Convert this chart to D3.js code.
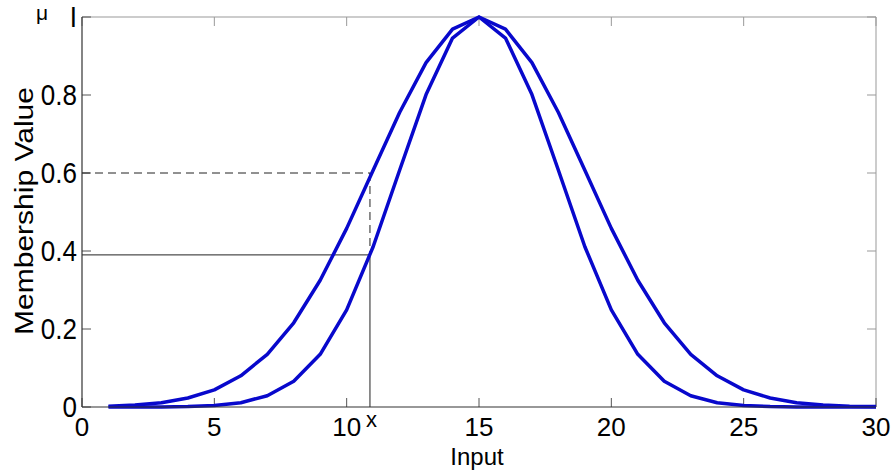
<!DOCTYPE html>
<html>
<head>
<meta charset="utf-8">
<script src="https://cdn.jsdelivr.net/npm/d3@7"></script>
<style>
  html, body { margin: 0; padding: 0; background: #fff; }
  svg { display: block; }
  text { font-family: "Liberation Sans", Arial, sans-serif; fill: #000; }
</style>
</head>
<body>
<svg id="chart" width="893" height="475"></svg>
<script>
// input points
const inputs = [1, 2, 3, 4, 5, 6, 7, 8, 9, 10, 11, 12, 13, 14, 15,
                16, 17, 18, 19, 20, 21, 22, 23, 24, 25, 26, 27, 28, 29, 30];
// upper (wide) membership curve
const upperMF = [0.002, 0.005, 0.011, 0.023, 0.044, 0.080, 0.135, 0.216, 0.325, 0.458,
                 0.607, 0.755, 0.883, 0.969, 1.000, 0.969, 0.883, 0.755, 0.607, 0.458,
                 0.325, 0.216, 0.135, 0.080, 0.044, 0.023, 0.011, 0.005, 0.002, 0.001];
// lower (narrow) membership curve
const lowerMF = [0.000, 0.000, 0.000, 0.001, 0.004, 0.011, 0.029, 0.066, 0.135, 0.249,
                 0.411, 0.607, 0.801, 0.946, 1.000, 0.946, 0.801, 0.607, 0.411, 0.249,
                 0.135, 0.066, 0.029, 0.011, 0.004, 0.001, 0.000, 0.000, 0.000, 0.000];

const xTicks = [0, 5, 10, 15, 20, 25, 30];
const yTicks = [0, 0.2, 0.4, 0.6, 0.8, 1];
const yTickLabels = ["0", "0.2", "0.4", "0.6", "0.8", "I"];

// marked input and its two membership grades
const markX = 10.88;
const markUpper = 0.6;
const markLower = 0.39;

const svg = d3.select("#chart");
const pl = 82, pr = 876, pt = 17, pb = 407;

const x = d3.scaleLinear().domain([0, 30]).range([pl, pr]);
const y = d3.scaleLinear().domain([0, 1]).range([pb, pt]);

// frame
svg.append("line").attr("x1", pl).attr("x2", pr).attr("y1", pt).attr("y2", pt)
    .attr("stroke", "#999").attr("stroke-width", 1);
svg.append("line").attr("x1", pr).attr("x2", pr).attr("y1", pt).attr("y2", pb)
    .attr("stroke", "#999").attr("stroke-width", 1);

// ticks (inside, like matlab)
const tk = 9;
svg.selectAll(".xt").data(xTicks).enter().append("line")
    .attr("x1", d => x(d)).attr("x2", d => x(d))
    .attr("y1", pb).attr("y2", pb - tk)
    .attr("stroke", "#555").attr("stroke-width", 1);
svg.selectAll(".xtt").data(xTicks).enter().append("line")
    .attr("x1", d => x(d)).attr("x2", d => x(d))
    .attr("y1", pt).attr("y2", pt + tk)
    .attr("stroke", "#999").attr("stroke-width", 1);
svg.selectAll(".yt").data(yTicks).enter().append("line")
    .attr("x1", pl).attr("x2", pl + tk)
    .attr("y1", d => y(d)).attr("y2", d => y(d))
    .attr("stroke", "#555").attr("stroke-width", 1);
svg.selectAll(".ytr").data(yTicks).enter().append("line")
    .attr("x1", pr).attr("x2", pr - tk)
    .attr("y1", d => y(d)).attr("y2", d => y(d))
    .attr("stroke", "#999").attr("stroke-width", 1);

// guide lines for the marked input
const guide = svg.append("g").attr("stroke", "#222").attr("stroke-width", 1).attr("fill", "none");
guide.append("line").attr("x1", x(0)).attr("x2", x(markX))
    .attr("y1", y(markUpper)).attr("y2", y(markUpper)).attr("stroke-dasharray", "8,5");
guide.append("line").attr("x1", x(markX)).attr("x2", x(markX))
    .attr("y1", y(markUpper)).attr("y2", y(markLower)).attr("stroke-dasharray", "8,5");
guide.append("line").attr("x1", x(0)).attr("x2", x(markX))
    .attr("y1", y(markLower)).attr("y2", y(markLower));
guide.append("line").attr("x1", x(markX)).attr("x2", x(markX))
    .attr("y1", y(0)).attr("y2", y(markLower));

// curves
const line = d3.line().x((d, i) => x(inputs[i])).y(d => y(d));
[upperMF, lowerMF].forEach(s => {
  svg.append("path").datum(s)
      .attr("d", line)
      .attr("fill", "none")
      .attr("stroke", "#0808cc")
      .attr("stroke-width", 3.5)
      .attr("stroke-linejoin", "round");
});

// axis lines on top
svg.append("line").attr("x1", pl).attr("x2", pr).attr("y1", pb).attr("y2", pb)
    .attr("stroke", "#333").attr("stroke-width", 1.2);
svg.append("line").attr("x1", pl).attr("x2", pl).attr("y1", pt).attr("y2", pb)
    .attr("stroke", "#333").attr("stroke-width", 1.2);

// tick labels
svg.selectAll(".xl").data(xTicks).enter().append("text")
    .attr("x", d => x(d)).attr("y", 436)
    .attr("text-anchor", "middle")
    .attr("font-size", 26)
    .text(d => d);
svg.selectAll(".yl").data(yTicks).enter().append("text")
    .attr("transform", d => `translate(77,${y(d) + 10}) scale(1,1.1)`)
    .attr("text-anchor", "end")
    .attr("font-size", 26)
    .text((d, i) => yTickLabels[i]);

// axis titles
svg.append("text")
    .attr("x", 477).attr("y", 465)
    .attr("text-anchor", "middle")
    .attr("font-size", 24)
    .text("Input");
svg.append("text")
    .attr("transform", "translate(33,211) rotate(-90)")
    .attr("text-anchor", "middle")
    .attr("font-size", 26)
    .attr("textLength", 248)
    .attr("lengthAdjust", "spacingAndGlyphs")
    .text("Membership Value");

// symbols
svg.append("text")
    .attr("x", 36).attr("y", 20)
    .attr("font-family", "Liberation Serif, serif")
    .attr("font-size", 21)
    .text("μ");
svg.append("text")
    .attr("x", 366).attr("y", 427)
    .attr("font-family", "Liberation Serif, serif")
    .attr("font-size", 22)
    .text("x");
</script>
</body>
</html>
